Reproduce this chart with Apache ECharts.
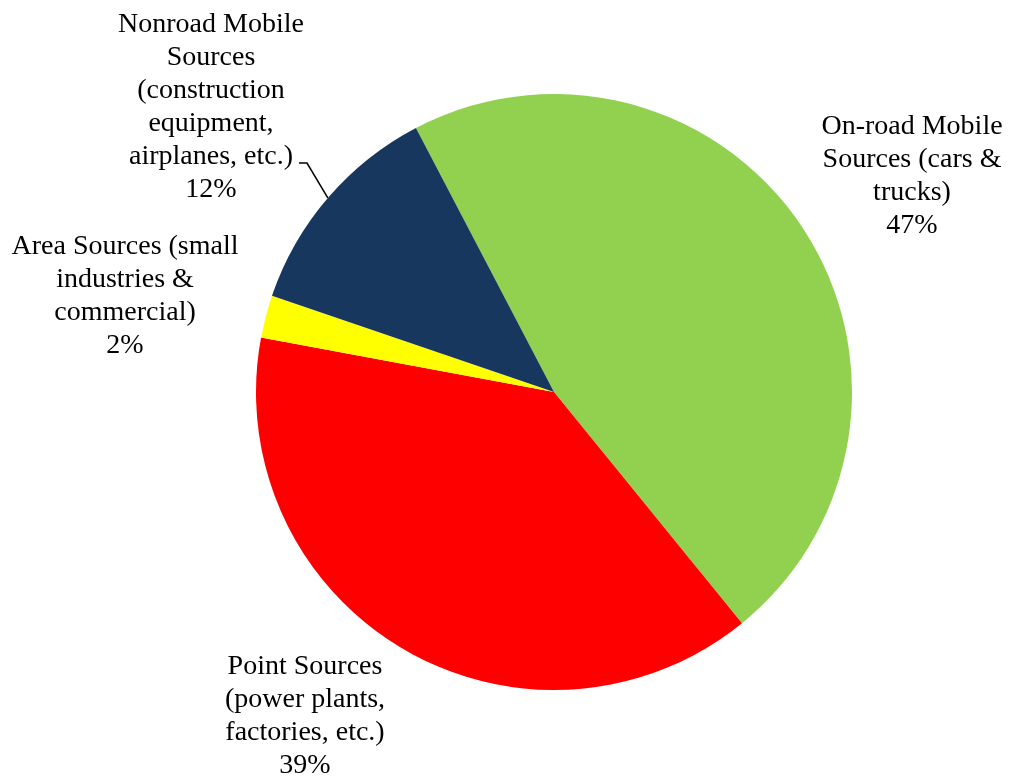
<!DOCTYPE html>
<html>
<head>
<meta charset="utf-8">
<script src="https://cdn.jsdelivr.net/npm/echarts@6/dist/echarts.min.js"></script>
<style>
html,body{margin:0;padding:0;background:#fff;}
#chart{width:1011px;height:779px;}
</style>
</head>
<body>
<div id="chart"></div>
<script>
// Data
var categories = [
  'On-road Mobile\nSources (cars &\ntrucks)',
  'Point Sources\n(power plants,\nfactories, etc.)',
  'Area Sources (small\nindustries &\ncommercial)',
  'Nonroad Mobile\nSources\n(construction\nequipment,\nairplanes, etc.)'
];
var values = [46.8, 38.8, 2.3, 12.1];
var colors = ['#92D050', '#FF0000', '#FFFF00', '#17375E'];

// Label layout (positions of label centres)
var labelPos = [
  {x: 912, y: 176},
  {x: 305, y: 716},
  {x: 125, y: 296},
  {x: 211, y: 107}
];

var chart = echarts.init(document.getElementById('chart'));
var data = categories.map(function (c, i) {
  return {
    name: c,
    value: values[i],
    itemStyle: {color: colors[i]},
    labelLine: {show: i === 3}
  };
});

chart.setOption({
  backgroundColor: '#ffffff',
  animation: false,
  series: [{
    type: 'pie',
    center: [554, 392],
    radius: [0, 298],
    startAngle: 117.6,
    clockwise: true,
    avoidLabelOverlap: false,
    data: data,
    label: {
      show: true,
      position: 'outside',
      formatter: function (p) { return p.name + '\n' + Math.round(p.value) + '%'; },
      fontFamily: '"Liberation Serif", "Times New Roman", serif',
      fontSize: 28,
      lineHeight: 33,
      color: '#000',
      align: 'center'
    },
    labelLine: {
      lineStyle: {color: '#000', width: 1.5},
      length: 10,
      length2: 10
    },
    labelLayout: function (params) {
      var p = labelPos[params.dataIndex];
      var out = {x: p.x, y: p.y, align: 'center', verticalAlign: 'middle', hideOverlap: false, moveOverlap: null};
      if (params.dataIndex === 3 && params.labelLinePoints) {
        var s = params.labelLinePoints[0];
        out.labelLinePoints = [s, [307, 163], [299, 163]];
      }
      return out;
    }
  }]
});
</script>
</body>
</html>
